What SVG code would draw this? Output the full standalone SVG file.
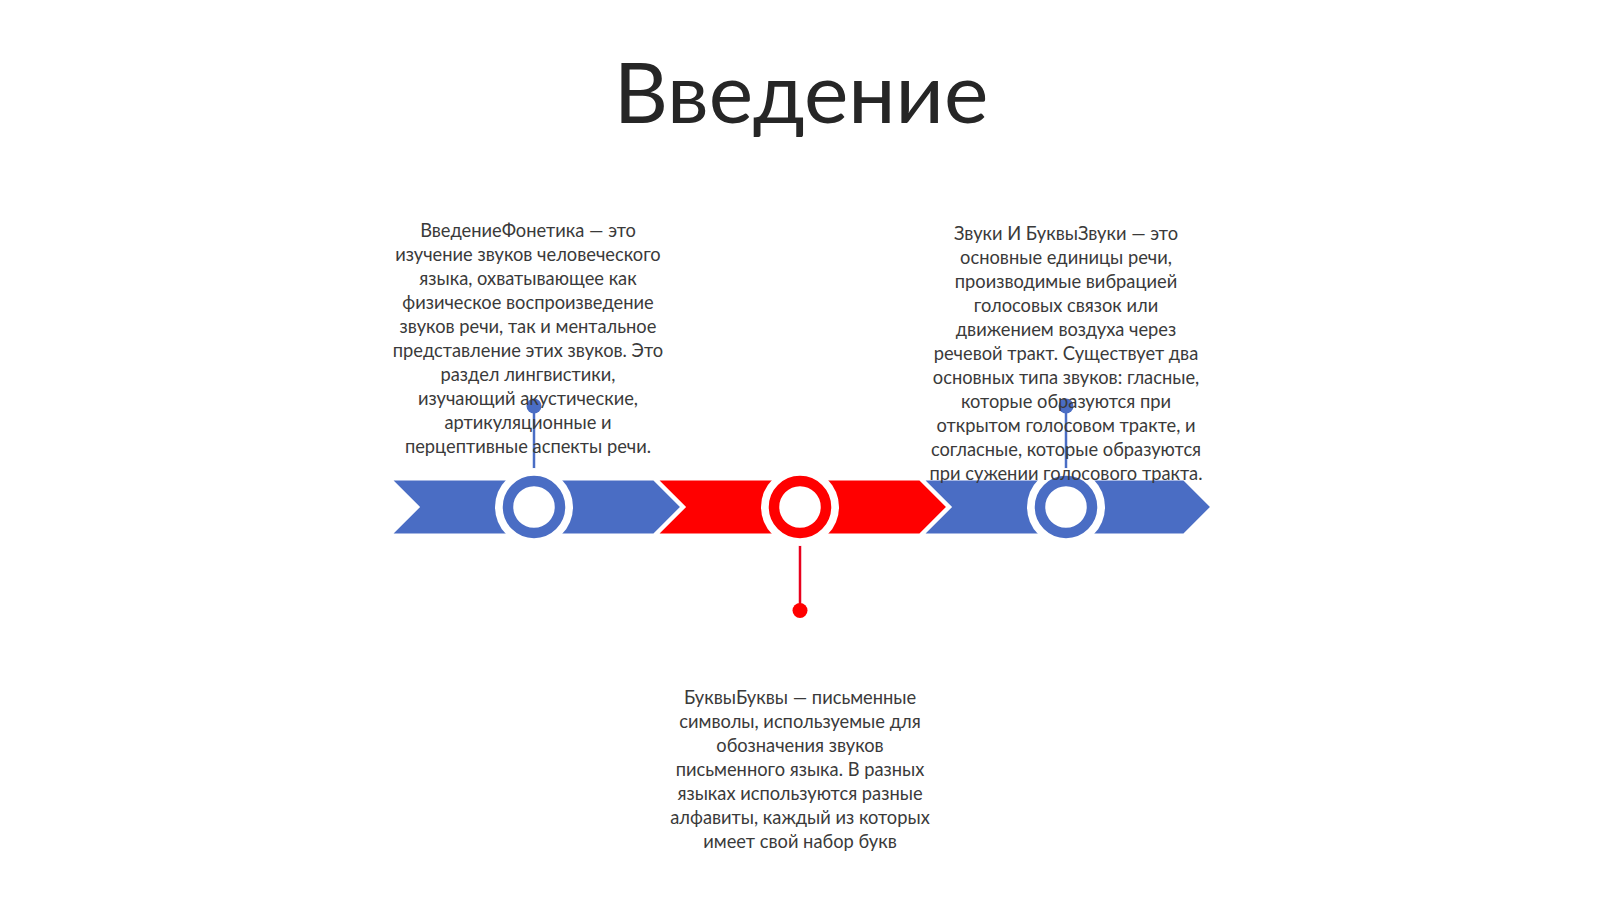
<svg xmlns="http://www.w3.org/2000/svg" width="1600" height="899" viewBox="0 0 1600 899">
<style>
.title{font-family:Lato,"Liberation Sans",sans-serif;font-size:84px;fill:#262626}
.body{font-family:Lato,"Liberation Sans",sans-serif;font-size:18.3px;fill:#3a3a3a;text-anchor:middle}
.blue{fill:#4A6DC4}
.red{fill:#FF0000}
.seg{stroke:#fff;stroke-width:3;stroke-linejoin:miter}
</style>
<rect width="1600" height="899" fill="#fff"/>
<text class="title" x="801" y="122.5" text-anchor="middle">Введение</text>
<g id="timeline">
<polygon class="seg blue" points="390,479 654,479 682,507 654,535 390,535 418,507"/>
<polygon class="seg red" points="656,479 920,479 948,507 920,535 656,535 684,507"/>
<polygon class="seg blue" points="922,479 1184,479 1212,507 1184,535 922,535 950,507"/>
</g>
<g id="connectors">
<line x1="534" y1="476" x2="534" y2="406" stroke="#4A6DC4" stroke-width="2.5"/>
<circle cx="534" cy="406" r="7.5" fill="#4A6DC4"/>
<line x1="800" y1="539" x2="800" y2="610.5" stroke="#E8001C" stroke-width="2.5"/>
<circle cx="800" cy="610.5" r="7.5" fill="#FF0000"/>
<line x1="1066" y1="476" x2="1066" y2="406" stroke="#4A6DC4" stroke-width="2.5"/>
<circle cx="1066" cy="406" r="7.5" fill="#4A6DC4"/>
</g>
<g id="node1">
<circle cx="534" cy="507" r="39" fill="#fff"/>
<circle cx="534" cy="507" r="26" fill="#fff" stroke="#4A6DC4" stroke-width="10.5"/>
<text class="body"><tspan x="528" y="237">ВведениеФонетика — это</tspan><tspan x="528" y="261">изучение звуков человеческого</tspan><tspan x="528" y="285">языка, охватывающее как</tspan><tspan x="528" y="309">физическое воспроизведение</tspan><tspan x="528" y="333">звуков речи, так и ментальное</tspan><tspan x="528" y="357">представление этих звуков. Это</tspan><tspan x="528" y="381">раздел лингвистики,</tspan><tspan x="528" y="405">изучающий акустические,</tspan><tspan x="528" y="429">артикуляционные и</tspan><tspan x="528" y="453">перцептивные аспекты речи.</tspan></text>
</g>
<g id="node2">
<circle cx="800" cy="507" r="39" fill="#fff"/>
<circle cx="800" cy="507" r="26" fill="#fff" stroke="#FF0000" stroke-width="10.5"/>
<text class="body"><tspan x="800" y="703.5">БуквыБуквы — письменные</tspan><tspan x="800" y="727.5">символы, используемые для</tspan><tspan x="800" y="751.5">обозначения звуков</tspan><tspan x="800" y="775.5">письменного языка. В разных</tspan><tspan x="800" y="799.5">языках используются разные</tspan><tspan x="800" y="823.5">алфавиты, каждый из которых</tspan><tspan x="800" y="847.5">имеет свой набор букв</tspan></text>
</g>
<g id="node3">
<circle cx="1066" cy="507" r="39" fill="#fff"/>
<circle cx="1066" cy="507" r="26" fill="#fff" stroke="#4A6DC4" stroke-width="10.5"/>
<text class="body"><tspan x="1066" y="240">Звуки И БуквыЗвуки — это</tspan><tspan x="1066" y="264">основные единицы речи,</tspan><tspan x="1066" y="288">производимые вибрацией</tspan><tspan x="1066" y="312">голосовых связок или</tspan><tspan x="1066" y="336">движением воздуха через</tspan><tspan x="1066" y="360">речевой тракт. Существует два</tspan><tspan x="1066" y="384">основных типа звуков: гласные,</tspan><tspan x="1066" y="408">которые образуются при</tspan><tspan x="1066" y="432">открытом голосовом тракте, и</tspan><tspan x="1066" y="456">согласные, которые образуются</tspan><tspan x="1066" y="480">при сужении голосового тракта.</tspan></text>
</g>
</svg>
